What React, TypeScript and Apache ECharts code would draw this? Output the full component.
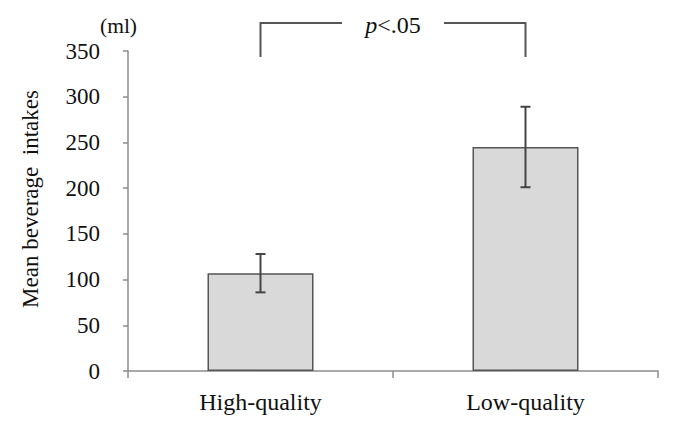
import React, { useEffect, useRef } from "react";
import * as echarts from "echarts";

const categories = ["High-quality", "Low-quality"];
const means = [107, 245];
const errors = [21, 44];
const yTicks = { min: 0, max: 350, interval: 50 };
const significance = { italic: "p", rest: "<.05" };
const unitLabel = "(ml)";
const yTitle = "Mean beverage  intakes";

const FONT = '"Liberation Serif", "Times New Roman", serif';

export default function App() {
  const ref = useRef<HTMLDivElement>(null);

  useEffect(() => {
    if (!ref.current) return;
    const chart = echarts.init(ref.current, null, { renderer: "svg" });

    const errorData = means.map((m, i) => [i, m - errors[i], m + errors[i]]);

    const option: any = {
      animation: false,
      backgroundColor: "#ffffff",
      textStyle: { fontFamily: FONT },
      grid: { left: 120, right: 12, top: 43, bottom: 44 },
      xAxis: {
        type: "category",
        data: categories,
        boundaryGap: true,
        axisLine: { show: true, lineStyle: { color: "#8c8c8c", width: 1.5 } },
        axisTick: { show: true, length: 7, lineStyle: { color: "#8c8c8c", width: 1.5 } },
        axisLabel: { color: "#111", fontFamily: FONT, fontSize: 24, margin: 19 },
      },
      yAxis: {
        type: "value",
        min: yTicks.min,
        max: yTicks.max,
        interval: yTicks.interval,
        name: yTitle,
        nameLocation: "middle",
        nameGap: 86,
        nameTextStyle: {
          color: "#111",
          fontFamily: FONT,
          fontSize: 23,
          padding: [0, 0, 0, 24],
        },
        splitLine: { show: false },
        axisLine: { show: true, lineStyle: { color: "#8c8c8c", width: 1.5 } },
        axisTick: { show: true, length: 5, lineStyle: { color: "#8c8c8c", width: 1.5 } },
        axisLabel: { color: "#111", fontFamily: FONT, fontSize: 23, margin: 28 },
      },
      graphic: [
        {
          type: "text",
          left: 92,
          top: 7,
          style: { text: unitLabel, fill: "#111", fontFamily: FONT, fontSize: 21.5 },
        },
      ],
      series: [
        {
          type: "bar",
          data: means,
          barWidth: "40%",
          itemStyle: { color: "#d9d9d9", borderColor: "#555555", borderWidth: 1.5 },
          z: 2,
        },
        {
          type: "custom",
          data: errorData,
          z: 5,
          renderItem: (params: any, api: any) => {
            const x = api.value(0);
            const lo = api.coord([x, api.value(1)]);
            const hi = api.coord([x, api.value(2)]);
            const cap = 5;
            const style = { stroke: "#444444", lineWidth: 2 };
            return {
              type: "group",
              children: [
                { type: "line", shape: { x1: lo[0], y1: lo[1], x2: hi[0], y2: hi[1] }, style },
                { type: "line", shape: { x1: hi[0] - cap, y1: hi[1], x2: hi[0] + cap, y2: hi[1] }, style },
                { type: "line", shape: { x1: lo[0] - cap, y1: lo[1], x2: lo[0] + cap, y2: lo[1] }, style },
              ],
            };
          },
        },
        {
          // significance bracket between the two categories
          type: "custom",
          data: [[0, 1]],
          clip: false,
          z: 5,
          renderItem: (params: any, api: any) => {
            const a = api.coord([api.value(0), yTicks.max]);
            const b = api.coord([api.value(1), yTicks.max]);
            const top = a[1] - 28;
            const foot = top + 34;
            const mid = (a[0] + b[0]) / 2;
            const gap = 51;
            const style = { stroke: "#555555", lineWidth: 2, fill: "none" };
            return {
              type: "group",
              children: [
                {
                  type: "polyline",
                  shape: { points: [[a[0], foot], [a[0], top], [mid - gap, top]] },
                  style,
                },
                {
                  type: "polyline",
                  shape: { points: [[mid + gap, top], [b[0], top], [b[0], foot]] },
                  style,
                },
                {
                  type: "text",
                  x: mid,
                  y: top + 2,
                  style: {
                    text: `{i|${significance.italic}}{n|${significance.rest}}`,
                    align: "center",
                    verticalAlign: "middle",
                    fill: "#111",
                    fontFamily: FONT,
                    fontSize: 24,
                    rich: {
                      i: { fontStyle: "italic", fontFamily: FONT, fontSize: 24, fill: "#111" },
                      n: { fontFamily: FONT, fontSize: 24, fill: "#111" },
                    },
                  },
                },
              ],
            };
          },
        },
      ],
    };

    chart.setOption(option);
    return () => chart.dispose();
  }, []);

  return <div ref={ref} style={{ width: 662, height: 407 }} />;
}
